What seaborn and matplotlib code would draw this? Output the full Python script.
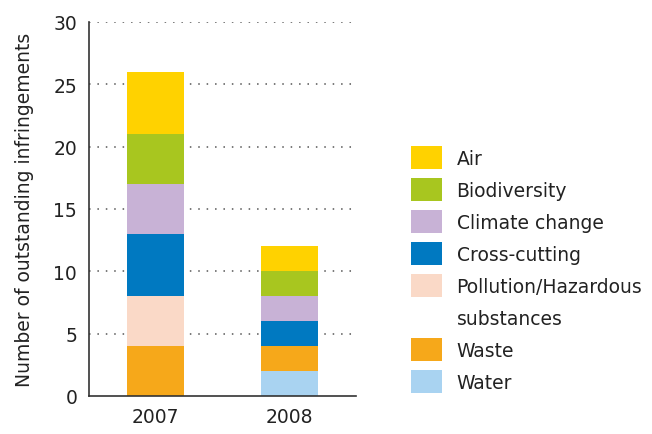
import numpy as np
import pandas as pd
import seaborn as sns
import matplotlib.pyplot as plt
from matplotlib.patches import Patch

# --- data ---
years = ['2007', '2008']
categories = ['Water', 'Waste', 'Pollution/Hazardous substances',
              'Cross-cutting', 'Climate change', 'Biodiversity', 'Air']
water = [0, 2]
waste = [4, 2]
pollution = [4, 0]
cross_cutting = [5, 2]
climate = [4, 2]
biodiversity = [4, 2]
air = [5, 2]

colors = {
    'Water': '#a9d3f1',
    'Waste': '#f6a81a',
    'Pollution/Hazardous substances': '#fad9c7',
    'Cross-cutting': '#0079c1',
    'Climate change': '#c8b2d6',
    'Biodiversity': '#a8c61f',
    'Air': '#ffd200',
}

series = [water, waste, pollution, cross_cutting, climate, biodiversity, air]
df = pd.DataFrame({'year': np.repeat([years], len(categories), axis=0).ravel(),
                   'category': np.repeat(categories, len(years)),
                   'value': np.array(series).ravel()})

sns.set_style('white')
plt.rcParams['font.family'] = ['DejaVu Sans']

fs = 13.5
fig = plt.figure(figsize=(6.52, 4.35), dpi=100)
ax = fig.add_axes([89 / 652, 1 - 397 / 435, 267 / 652, 374 / 435])

# stacked bars, bottom to top
bottom = np.zeros(len(years))
for cat in categories:
    sub = df[df['category'] == cat]
    vals = sub['value'].to_numpy(dtype=float)
    sns.barplot(x=sub['year'], y=vals, bottom=bottom, color=colors[cat],
                width=0.43, saturation=1, ax=ax, linewidth=0, order=years)
    bottom += vals

ax.set_xlim(-0.5, 1.5)
ax.set_ylim(0, 30)
ax.set_yticks(range(0, 31, 5))
ax.set_xlabel('')
ax.set_ylabel('Number of outstanding infringements', fontsize=fs,
              color='#222222', labelpad=14)

# dotted grid
for yv in range(5, 31, 5):
    ax.axhline(yv, color='#555555', linestyle=(0, (1, 4.5)), linewidth=1.1,
               zorder=0)

for s in ['top', 'right']:
    ax.spines[s].set_visible(False)
for s in ['left', 'bottom']:
    ax.spines[s].set_color('#333333')
    ax.spines[s].set_linewidth(1.2)

ax.tick_params(axis='y', length=0, pad=8.5, labelsize=fs, colors='#222222')
ax.tick_params(axis='x', which='major', length=0, pad=8, labelsize=fs,
               colors='#222222')
ax.set_xticks([-0.5, 0.5, 1.5], minor=True)
ax.tick_params(axis='x', which='minor', length=6, width=1.2, color='#333333',
               direction='out')

# legend with top entry first
handles = []
labels = []
for cat in ['Air', 'Biodiversity', 'Climate change', 'Cross-cutting']:
    handles.append(Patch(facecolor=colors[cat], edgecolor='none'))
    labels.append(cat)
handles.append(Patch(facecolor=colors['Pollution/Hazardous substances'], edgecolor='none'))
labels.append('Pollution/Hazardous')
handles.append(Patch(facecolor='none', edgecolor='none'))
labels.append('substances')
for cat in ['Waste', 'Water']:
    handles.append(Patch(facecolor=colors[cat], edgecolor='none'))
    labels.append(cat)

fig.legend(handles, labels, loc='upper left',
           bbox_to_anchor=(411 / 652, 1 - 147 / 435), frameon=False,
           fontsize=fs, handlelength=1.65, handleheight=1.51,
           handletextpad=0.78, labelspacing=0.48, borderpad=0,
           borderaxespad=0, labelcolor='#222222')

fig.savefig('out.png', dpi=100)
